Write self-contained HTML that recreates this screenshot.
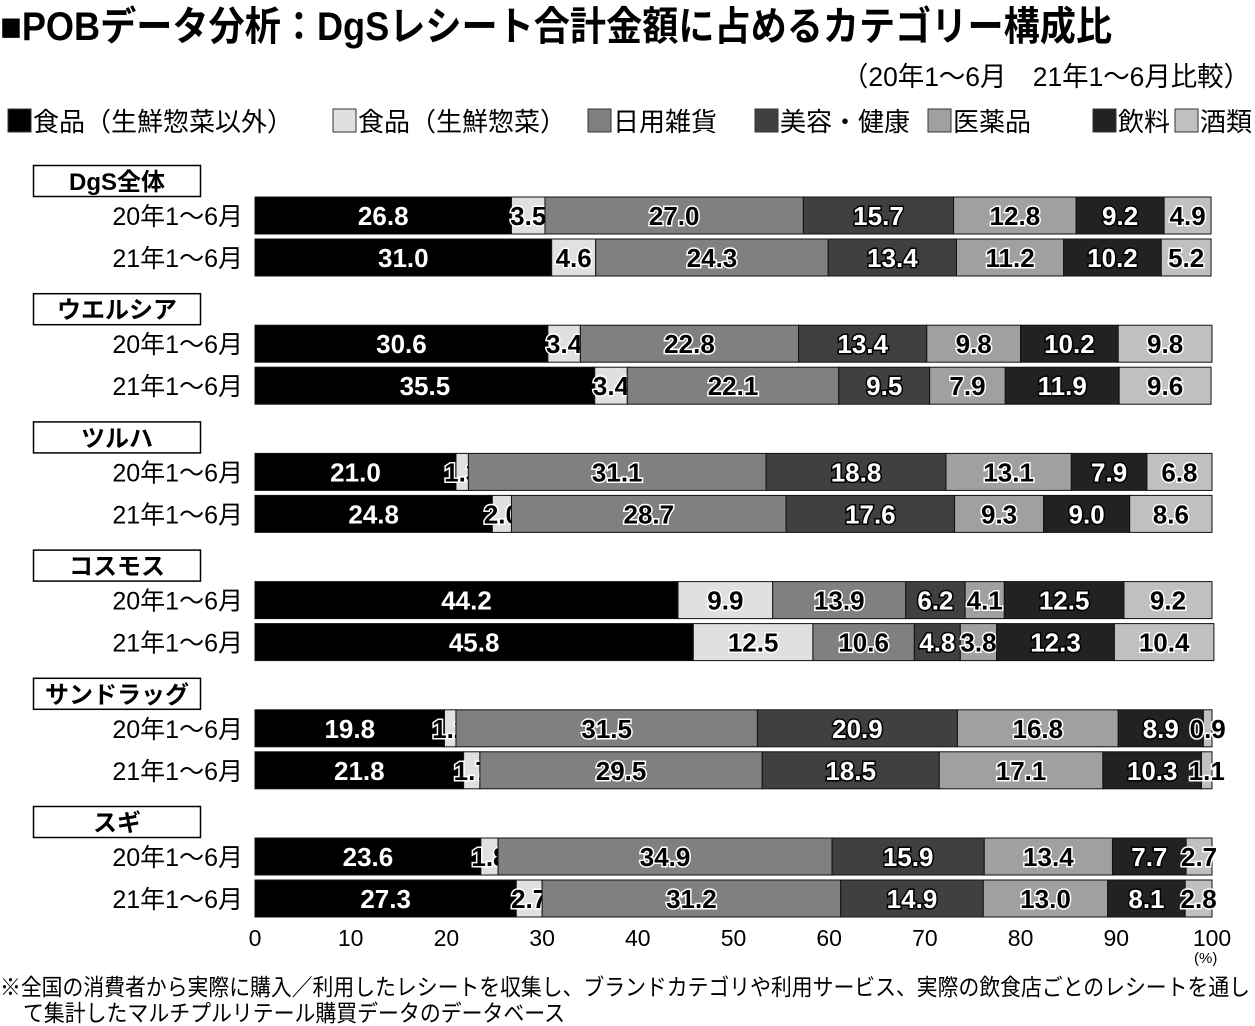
<!DOCTYPE html>
<html><head><meta charset="utf-8">
<style>
html,body{margin:0;padding:0;background:#fff;}
svg{display:block;font-family:"Liberation Sans","Noto Sans CJK JP",sans-serif;}
</style></head>
<body>
<svg id="chart" width="1255" height="1026" viewBox="0 0 1255 1026" xmlns="http://www.w3.org/2000/svg">
<text x="0" y="40" font-size="40" font-weight="bold" textLength="1112" lengthAdjust="spacingAndGlyphs">■POBデータ分析：DgSレシート合計金額に占めるカテゴリー構成比</text>
<text x="842" y="86" font-size="27" textLength="408" lengthAdjust="spacingAndGlyphs">（20年1～6月　21年1～6月比較）</text>
<g id="legend"></g>
<g id="groups"></g>
<g id="bars"></g>
<g id="xaxis"></g>
<text x="1194" y="963" font-size="15">(%)</text>
<text x="0" y="995" font-size="23" textLength="1250" lengthAdjust="spacingAndGlyphs">※全国の消費者から実際に購入／利用したレシートを収集し、ブランドカテゴリや利用サービス、実際の飲食店ごとのレシートを通し</text>
<text x="23" y="1021" font-size="23" textLength="542" lengthAdjust="spacingAndGlyphs">て集計したマルチプルリテール購買データのデータベース</text>
</svg>
<script>
const categories = ["食品（生鮮惣菜以外）","食品（生鮮惣菜）","日用雑貨","美容・健康","医薬品","飲料","酒類"];
const groups = ["DgS全体","ウエルシア","ツルハ","コスモス","サンドラッグ","スギ"];
const periods = ["20年1～6月","21年1～6月"];
const dgs = [[26.8,3.5,27.0,15.7,12.8,9.2,4.9],[31.0,4.6,24.3,13.4,11.2,10.2,5.2]];
const welcia = [[30.6,3.4,22.8,13.4,9.8,10.2,9.8],[35.5,3.4,22.1,9.5,7.9,11.9,9.6]];
const tsuruha = [[21.0,1.3,31.1,18.8,13.1,7.9,6.8],[24.8,2.0,28.7,17.6,9.3,9.0,8.6]];
const cosmos = [[44.2,9.9,13.9,6.2,4.1,12.5,9.2],[45.8,12.5,10.6,4.8,3.8,12.3,10.4]];
const sundrug = [[19.8,1.2,31.5,20.9,16.8,8.9,0.9],[21.8,1.7,29.5,18.5,17.1,10.3,1.1]];
const sugi = [[23.6,1.8,34.9,15.9,13.4,7.7,2.7],[27.3,2.7,31.2,14.9,13.0,8.1,2.8]];
const xTicks = [0,10,20,30,40,50,60,70,80,90,100];

const series = [dgs,welcia,tsuruha,cosmos,sundrug,sugi];
const colors = ["#000000","#e0e0e0","#808080","#404040","#a0a0a0","#222222","#c0c0c0"];
const darkSeg = [true,false,false,true,false,true,false];
const NS="http://www.w3.org/2000/svg";
function x(v){return 255+v*9.57;}
function groupY(g){return 165+g*128.2;}
function rowY(g,r){return groupY(g)+32+r*42;}
function mk(tag,attrs,parent){const e=document.createElementNS(NS,tag);for(const k in attrs)e.setAttribute(k,attrs[k]);parent.appendChild(e);return e;}

// legend
const lg=document.getElementById('legend');
const legendX=[5,330,585,752,925,1090,1172];
categories.forEach((c,i)=>{
  const r=mk('rect',{x:legendX[i]+3,y:109,width:23,height:23,fill:colors[i],stroke:'#333','stroke-width':1},lg);
  
  
  const t=mk('text',{x:legendX[i]+28,y:131,'font-size':26},lg);
  
  
  t.textContent=c;
});

const gg=document.getElementById('groups');
const bg=document.getElementById('bars');
groups.forEach((name,g)=>{
  const gy=groupY(g);
  const box=mk('rect',{x:33.5,y:gy+0.5,width:167,height:31,fill:'#fff',stroke:'#000','stroke-width':1.5},gg);
  
  
  const t=mk('text',{x:117,y:gy+25,'font-size':24,'font-weight':'bold','text-anchor':'middle'},gg);
  
  
  t.textContent=name;
  periods.forEach((p,r)=>{
    const y=rowY(g,r);
    const pl=mk('text',{x:243,y:y+28,'font-size':25,'text-anchor':'end'},gg);
    
    
    pl.textContent=p;
    let cum=0;
    series[g][r].forEach((v,i)=>{
      const x0=x(cum), x1=x(cum+v);
      const rect=mk('rect',{x:x0,y:y,width:x1-x0,height:37,fill:colors[i],stroke:'#111','stroke-width':1},bg);
      
      
      const lt=mk('text',{x:(x0+x1)/2,y:y+28,'font-size':26,'font-weight':'bold','text-anchor':'middle',
        fill:darkSeg[i]?'#fff':'#000',stroke:darkSeg[i]?'#000':'#fff','stroke-width':3,'paint-order':'stroke'},bg);
      
      
      lt.textContent=v.toFixed(1);
      cum+=v;
    });
  });
});

const xa=document.getElementById('xaxis');
xTicks.forEach(v=>{
  const t=mk('text',{x:x(v),y:946,'font-size':23,'text-anchor':'middle'},xa);
  
  
  t.textContent=v;
});
</script>
</body></html>
